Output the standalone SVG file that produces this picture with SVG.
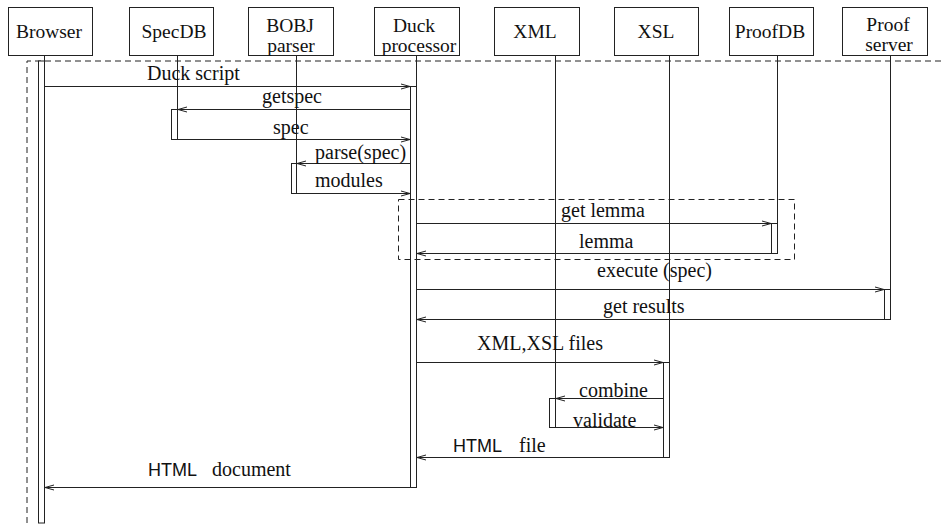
<svg xmlns="http://www.w3.org/2000/svg" width="941" height="527" viewBox="0 0 941 527">
  <style>
    .box { fill: #fff; stroke: #222; stroke-width: 1; }
    .life { stroke: #222; stroke-width: 1; fill: none; }
    .act { fill: #fff; stroke: #222; stroke-width: 1; }
    .msg { stroke: #222; stroke-width: 1; fill: none; marker-end: url(#open); }
    .frame { stroke: #222; stroke-width: 1; fill: none; stroke-dasharray: 6 4; }
    .t { font-family: 'Liberation Serif', 'Times New Roman', serif; font-size: 20px; fill: #111; }
    .lbl { text-anchor: middle; font-size: 19.5px; }
    .sans { font-family: 'Liberation Sans', Arial, sans-serif; font-size: 18px; fill: #111; }
  </style>
  <defs>
    <marker id="open" markerUnits="userSpaceOnUse" markerWidth="12" markerHeight="8" refX="10" refY="4" orient="auto" overflow="visible">
      <path d="M1,1.5 L10,4 L1,6.5" fill="none" stroke="#222" stroke-width="1"/>
    </marker>
  </defs>
  <rect width="941" height="527" fill="#fff"/>

  <!-- outer dashed frame -->
  <path class="frame" d="M941,61 H27 V527"/>

  <!-- participants -->
  <g id="browser">
    <rect class="box" x="8.5" y="7.5" width="84" height="48"/>
    <text class="t lbl" x="49" y="38">Browser</text>
    <line class="life" x1="44.5" y1="55.5" x2="44.5" y2="61"/>
    <rect class="act" x="38.5" y="61" width="6" height="462"/>
  </g>
  <g id="specdb">
    <rect class="box" x="129.5" y="7.5" width="84" height="48"/>
    <text class="t lbl" x="174" y="38">SpecDB</text>
    <line class="life" x1="177.5" y1="55.5" x2="177.5" y2="139"/>
    <rect class="act" x="171.5" y="109.5" width="6" height="30"/>
  </g>
  <g id="bobj">
    <rect class="box" x="248.5" y="7.5" width="85" height="48"/>
    <text class="t lbl" x="290" y="32">BOBJ</text>
    <text class="t lbl" x="291" y="52">parser</text>
    <line class="life" x1="296.5" y1="55.5" x2="296.5" y2="193"/>
    <rect class="act" x="291.5" y="163.5" width="5" height="30"/>
  </g>
  <g id="duck">
    <rect class="box" x="374.5" y="7.5" width="85" height="48"/>
    <text class="t lbl" x="414" y="32">Duck</text>
    <text class="t lbl" x="419" y="52">processor</text>
    <line class="life" x1="416.5" y1="55.5" x2="416.5" y2="86"/>
    <rect class="act" x="410.5" y="86.5" width="6" height="401"/>
  </g>
  <g id="xml">
    <rect class="box" x="494.5" y="7.5" width="85" height="48"/>
    <text class="t lbl" x="535" y="38">XML</text>
    <line class="life" x1="555.5" y1="55.5" x2="555.5" y2="428"/>
    <rect class="act" x="549.5" y="398.5" width="6" height="29"/>
  </g>
  <g id="xsl">
    <rect class="box" x="614.5" y="7.5" width="84" height="48"/>
    <text class="t lbl" x="656" y="38">XSL</text>
    <line class="life" x1="669.5" y1="55.5" x2="669.5" y2="457"/>
    <rect class="act" x="663.5" y="362.5" width="6" height="95"/>
  </g>
  <g id="proofdb">
    <rect class="box" x="729.5" y="7.5" width="84" height="48"/>
    <text class="t lbl" x="770" y="38">ProofDB</text>
    <line class="life" x1="777.5" y1="55.5" x2="777.5" y2="253"/>
    <rect class="act" x="771.5" y="223.5" width="6" height="30"/>
  </g>
  <g id="proofserver">
    <rect class="box" x="842.5" y="7.5" width="85" height="48"/>
    <text class="t lbl" x="888" y="31">Proof</text>
    <text class="t lbl" x="889" y="51">server</text>
    <line class="life" x1="890.5" y1="55.5" x2="890.5" y2="319"/>
    <rect class="act" x="884.5" y="289.5" width="6" height="30"/>
  </g>

  <!-- lemma lookup fragment -->
  <rect class="frame" x="398.5" y="199.5" width="396" height="60"/>

  <!-- messages -->
  <g id="messages">
    <path class="msg" d="M44.5,86.5 H410"/>
    <path class="msg" d="M410.5,109.5 H178"/>
    <path class="msg" d="M177.5,139.5 H410"/>
    <path class="msg" d="M410.5,163.5 H297"/>
    <path class="msg" d="M296.5,193.5 H410"/>
    <path class="msg" d="M416.5,223.5 H771"/>
    <path class="msg" d="M771.5,253.5 H417"/>
    <path class="msg" d="M416.5,289.5 H884"/>
    <path class="msg" d="M884.5,319.5 H417"/>
    <path class="msg" d="M416.5,362.5 H663"/>
    <path class="msg" d="M663.5,398.5 H556"/>
    <path class="msg" d="M555.5,427.5 H663"/>
    <path class="msg" d="M663.5,457.5 H417"/>
    <path class="msg" d="M410.5,487.5 H45"/>

    <text class="t" x="147" y="80">Duck script</text>
    <text class="t" x="262" y="103">getspec</text>
    <text class="t" x="273" y="134">spec</text>
    <text class="t" x="315" y="159">parse(spec)</text>
    <text class="t" x="315" y="187">modules</text>
    <text class="t" x="561" y="217">get lemma</text>
    <text class="t" x="579" y="248">lemma</text>
    <text class="t" x="597" y="277">execute (spec)</text>
    <text class="t" x="603" y="313">get results</text>
    <text class="t" x="477" y="350">XML,XSL files</text>
    <text class="t" x="579" y="397">combine</text>
    <text class="t" x="573" y="427">validate</text>
    <text class="sans" x="453" y="452">HTML</text>
    <text class="t" x="519" y="452">file</text>
    <text class="sans" x="148" y="476">HTML</text>
    <text class="t" x="212" y="476">document</text>
  </g>
</svg>
